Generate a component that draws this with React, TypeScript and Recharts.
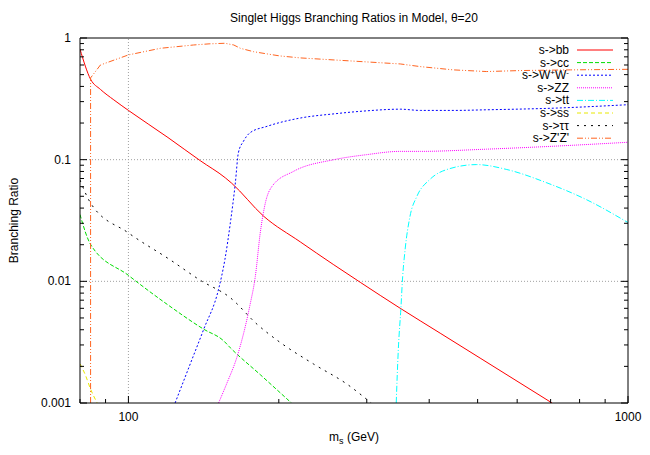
import React from "react";
import { LineChart, Line, XAxis, YAxis, ReferenceLine, Customized } from "recharts";

const FONT = "'Liberation Sans', Arial, Helvetica, sans-serif";

// axis ticks (log scales)
const xTicks = [80, 90, 100, 200, 300, 400, 500, 600, 700, 800, 900, 1000];
const xMajor = [100, 1000];
const yTicks = [
  0.001, 0.002, 0.003, 0.004, 0.005, 0.006, 0.007, 0.008, 0.009,
  0.01, 0.02, 0.03, 0.04, 0.05, 0.06, 0.07, 0.08, 0.09,
  0.1, 0.2, 0.3, 0.4, 0.5, 0.6, 0.7, 0.8, 0.9, 1,
];
const yMajor = [0.001, 0.01, 0.1, 1];

// branching ratios, m_s in GeV
const bbMass = [80, 84, 87.9, 93.5, 100, 120, 139.3, 156.3, 161, 186.5, 220.8, 257, 291.1, 349.9, 420.7, 505.8, 608, 704.7];
const bbBR = [0.81, 0.458, 0.378, 0.31, 0.254, 0.152, 0.098, 0.0709, 0.064, 0.0343, 0.0211, 0.01378, 0.00982, 0.00601, 0.00375, 0.00234, 0.00146, 0.001];

const ccMass = [80, 84, 100, 120, 141.5, 155, 160, 183.6, 212];
const ccBR = [0.0354, 0.0201, 0.0112, 0.0064, 0.00404, 0.00325, 0.00284, 0.00171, 0.001];

const wwMass = [124, 133, 141.5, 151.5, 156, 160, 163.7, 166, 170, 175, 189.5, 221, 258, 300, 350, 384, 450, 521, 710, 1000];
const wwBR = [0.001, 0.0021, 0.00404, 0.0086, 0.0151, 0.0304, 0.0645, 0.114, 0.142, 0.166, 0.188, 0.22, 0.238, 0.252, 0.26, 0.254, 0.254, 0.257, 0.265, 0.283];

const zzMass = [151.5, 157.5, 165, 175, 179.5, 183.6, 188, 194, 214, 258, 300, 350, 384, 521, 710, 1000];
const zzBR = [0.001, 0.00146, 0.0024, 0.0063, 0.011, 0.025, 0.0442, 0.0606, 0.0801, 0.1, 0.11, 0.117, 0.117, 0.122, 0.129, 0.139];

const ttMass = [343.6, 347, 351, 354, 358, 366, 378, 401, 434, 498, 572, 688, 825, 1000];
const ttBR = [0.001, 0.0028, 0.0059, 0.011, 0.0183, 0.034, 0.05, 0.0686, 0.083, 0.0911, 0.083, 0.0645, 0.047, 0.0304];

const ssMass = [80, 82, 84, 86.6];
const ssBR = [0.0021, 0.0017, 0.0013, 0.001];

const tautauMass = [80, 84, 100, 121, 139.3, 160, 180.9, 201.4, 234.8, 273.8, 306.2];
const tautauBR = [0.068, 0.044, 0.025, 0.0151, 0.0102, 0.00732, 0.00444, 0.00314, 0.00209, 0.00143, 0.001];

const zpMass = [84, 84, 87.9, 100, 115.9, 135, 145, 156, 162.5, 167.5, 178, 189.5, 201, 221, 258, 300, 350, 384, 447, 521, 609, 767, 1000];
const zpBR = [0.001, 0.47, 0.6, 0.726, 0.823, 0.876, 0.895, 0.905, 0.876, 0.823, 0.772, 0.74, 0.712, 0.686, 0.66, 0.636, 0.612, 0.582, 0.547, 0.53, 0.54, 0.547, 0.553];

const toPoints = (m: number[], br: number[]) => m.map((v, i) => ({ m: v, br: br[i] }));

const series = [
  { key: "bb", color: "#ff0000", dash: undefined, curve: "monotone", points: toPoints(bbMass, bbBR) },
  { key: "cc", color: "#00dd00", dash: "4 2", curve: "monotone", points: toPoints(ccMass, ccBR) },
  { key: "ww", color: "#0000ff", dash: "2 2", curve: "monotone", points: toPoints(wwMass, wwBR) },
  { key: "zz", color: "#ff00ff", dash: "1 1", curve: "monotone", points: toPoints(zzMass, zzBR) },
  { key: "tt", color: "#00ffff", dash: "6 2 1 2", curve: "monotone", points: toPoints(ttMass, ttBR) },
  { key: "ss", color: "#e8e800", dash: "4 3", curve: "monotone", points: toPoints(ssMass, ssBR) },
  { key: "tautau", color: "#000000", dash: "2 5", curve: "monotone", points: toPoints(tautauMass, tautauBR) },
  { key: "zpzp", color: "#ff6420", dash: "6 2 1 2 1 2", curve: "linear", points: toPoints(zpMass, zpBR) },
];

const txt = { fontFamily: FONT, fontSize: 12, fill: "#000" };

const fmtY = (v: number) => String(v);

// gnuplot-style inward ticks
const BottomTick = (props: any) => {
  const { x, y, payload } = props;
  const major = xMajor.includes(payload.value);
  return (
    <g>
      <line x1={x} y1={y} x2={x} y2={y - (major ? 7 : 4)} stroke="#000" />
      {major && (
        <text x={x} y={y + 18} textAnchor="middle" style={txt}>
          {payload.value}
        </text>
      )}
    </g>
  );
};

const TopTick = (props: any) => {
  const { x, y, payload } = props;
  const major = xMajor.includes(payload.value);
  return <line x1={x} y1={y} x2={x} y2={y + (major ? 7 : 4)} stroke="#000" />;
};

const LeftTick = (props: any) => {
  const { x, y, payload } = props;
  const major = yMajor.includes(payload.value);
  return (
    <g>
      <line x1={x} y1={y} x2={x + (major ? 7 : 4)} y2={y} stroke="#000" />
      {major && (
        <text x={x - 9} y={y + 4} textAnchor="end" style={txt}>
          {fmtY(payload.value)}
        </text>
      )}
    </g>
  );
};

const RightTick = (props: any) => {
  const { x, y, payload } = props;
  const major = yMajor.includes(payload.value);
  return <line x1={x} y1={y} x2={x - (major ? 7 : 4)} y2={y} stroke="#000" />;
};

const TitleLabel = (props: any) => {
  const vb = props.viewBox;
  return (
    <text x={vb.x + vb.width / 2} y={22} textAnchor="middle" style={txt}>
      Singlet Higgs Branching Ratios in Model, θ=20
    </text>
  );
};

const XTitle = (props: any) => {
  const vb = props.viewBox;
  return (
    <text x={vb.x + vb.width / 2} y={vb.y + 38} textAnchor="middle" style={txt}>
      <tspan>m</tspan>
      <tspan dy={3} fontSize={9}>s</tspan>
      <tspan dy={-3}> (GeV)</tspan>
    </text>
  );
};

const YTitle = (props: any) => {
  const vb = props.viewBox;
  const cx = 18;
  const cy = vb.y + vb.height / 2;
  return (
    <text x={cx} y={cy} textAnchor="middle" transform={`rotate(-90 ${cx} ${cy})`} style={txt}>
      Branching Ratio
    </text>
  );
};

const legendLabel = (key: string) => {
  switch (key) {
    case "bb": return "s->bb";
    case "cc": return "s->cc";
    case "ww":
      return (
        <>
          <tspan>s-&gt;W</tspan>
          <tspan dy={-4} fontSize={8}>+</tspan>
          <tspan dy={4}>W</tspan>
          <tspan dy={-4} fontSize={8}>-</tspan>
        </>
      );
    case "zz": return "s->ZZ";
    case "tt": return "s->tt";
    case "ss": return "s->ss";
    case "tautau": return "s->ττ";
    default: return "s->Z'Z'";
  }
};

const KeyBox = () => (
  <g>
    {series.map((s, i) => {
      const cy = 50 + i * 12.6;
      return (
        <g key={s.key}>
          <text x={569} y={cy + 4} textAnchor="end" style={txt}>
            {legendLabel(s.key)}
          </text>
          <line x1={577} y1={cy} x2={613} y2={cy} stroke={s.color} strokeDasharray={s.dash} />
        </g>
      );
    })}
  </g>
);

export default function App() {
  return (
    <div style={{ position: "absolute", left: 0, top: 0, background: "#fff" }}>
      <LineChart width={650} height={455} margin={{ top: 0, right: 0, bottom: 0, left: 0 }}>
        <XAxis
          dataKey="m"
          type="number"
          scale="log"
          domain={[80, 1000]}
          allowDataOverflow
          ticks={xTicks}
          interval={0}
          tickSize={0}
          tickMargin={0}
          tick={<BottomTick />}
          axisLine={{ stroke: "#000" }}
          height={52}
          label={XTitle}
        />
        <XAxis
          xAxisId="top"
          orientation="top"
          type="number"
          scale="log"
          domain={[80, 1000]}
          allowDataOverflow
          ticks={xTicks}
          interval={0}
          tickSize={0}
          tickMargin={0}
          tick={<TopTick />}
          axisLine={{ stroke: "#000" }}
          height={38}
          label={TitleLabel}
        />
        <YAxis
          type="number"
          scale="log"
          domain={[0.001, 1]}
          allowDataOverflow
          ticks={yTicks}
          interval={0}
          tickSize={0}
          tickMargin={0}
          tick={<LeftTick />}
          axisLine={{ stroke: "#000" }}
          width={80}
          label={YTitle}
        />
        <YAxis
          yAxisId="right"
          orientation="right"
          type="number"
          scale="log"
          domain={[0.001, 1]}
          allowDataOverflow
          ticks={yTicks}
          interval={0}
          tickSize={0}
          tickMargin={0}
          tick={<RightTick />}
          axisLine={{ stroke: "#000" }}
          width={22}
        />
        <ReferenceLine x={100} stroke="#a0a0a0" strokeDasharray="1 2" />
        <ReferenceLine y={0.1} stroke="#a0a0a0" strokeDasharray="1 2" />
        <ReferenceLine y={0.01} stroke="#a0a0a0" strokeDasharray="1 2" />
        {series.map((s) => (
          <Line
            key={s.key}
            data={s.points}
            dataKey="br"
            type={s.curve as any}
            stroke={s.color}
            strokeWidth={1}
            strokeDasharray={s.dash}
            dot={false}
            activeDot={false}
            isAnimationActive={false}
          />
        ))}
        <Customized component={<KeyBox />} />
      </LineChart>
    </div>
  );
}
